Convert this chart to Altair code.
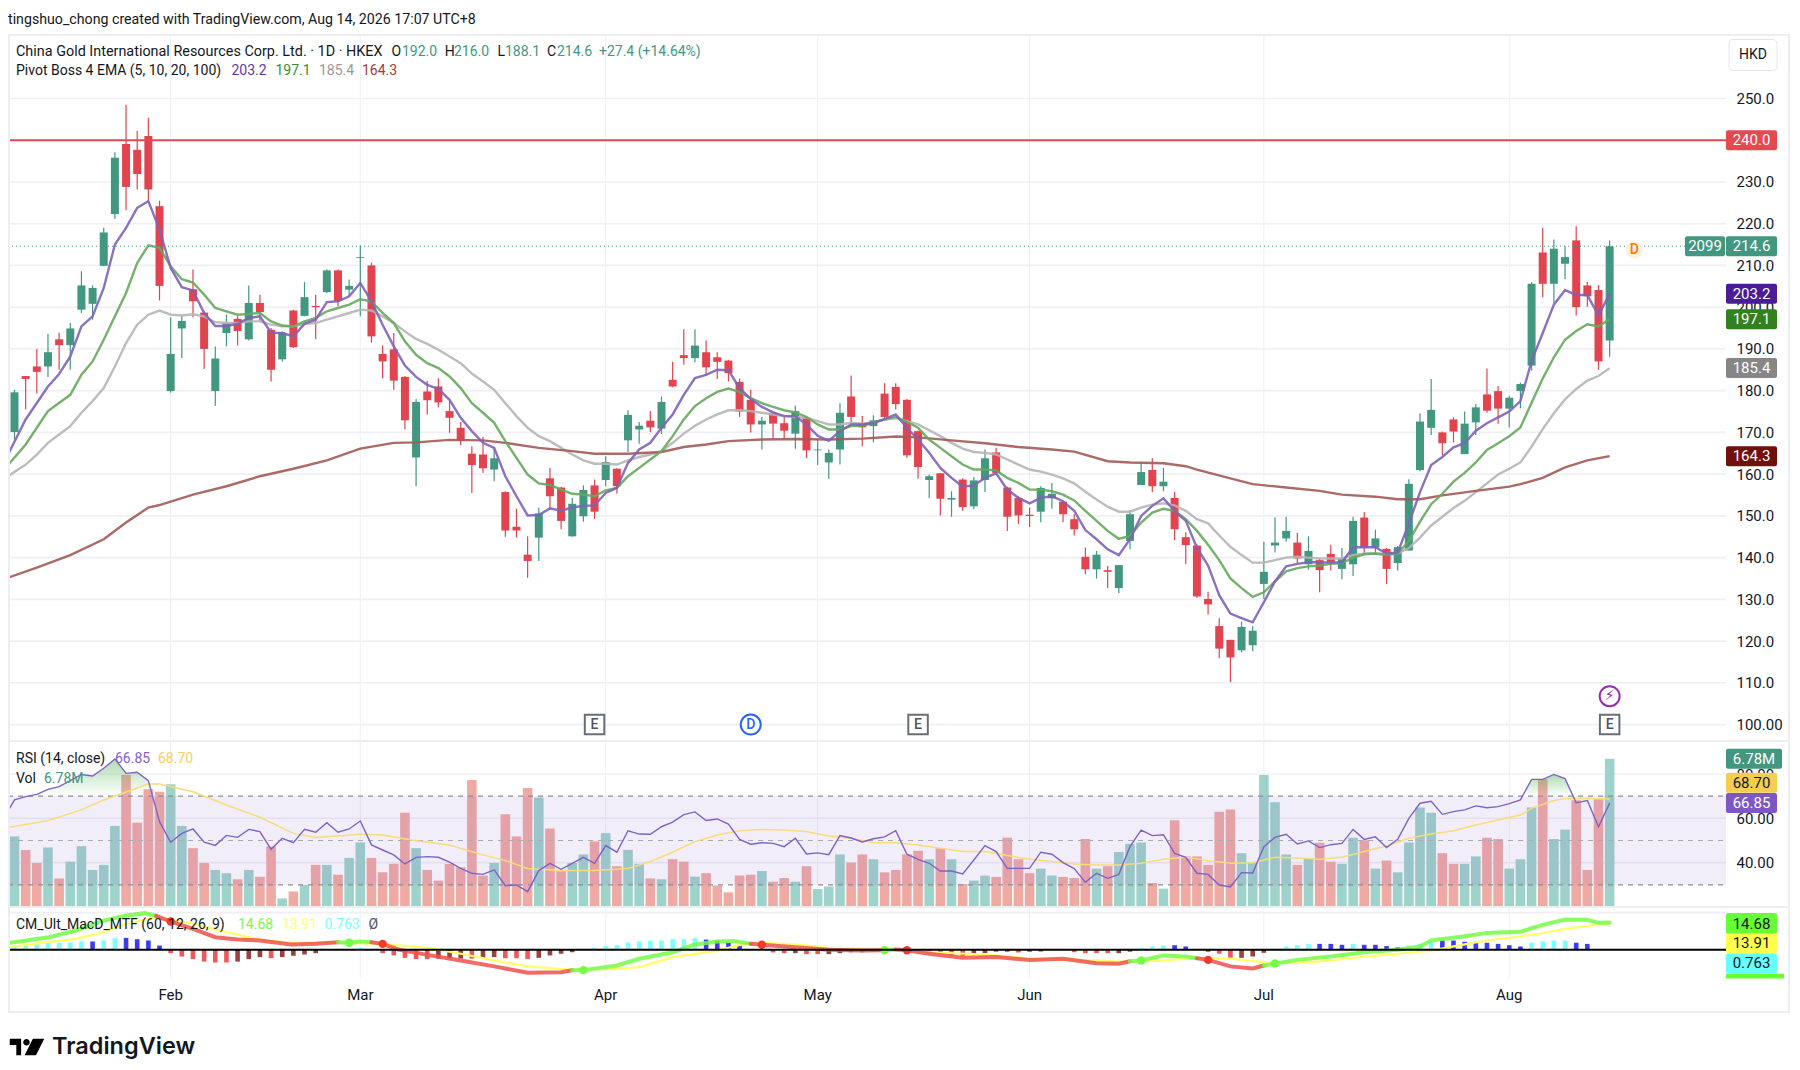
import altair as alt
import pandas as pd

dirs = list("GRRGRGGGGG" "RRRRGGRRGG" "RGRRGRGRGR" "GGRRRRGRRR" "RRRGRRRGRR" "GGRGRGGRGR"
            "RGRRRRRGRR" "GRGGGRRGRR" "RRGRGRGGRR" "RRGGRRRGRG" "GGRGRRRRRR" "GGGGGRGRRG"
            "GRGRGGGGRR" "GGRRGGGRGG" "RRRG")
body_top = [179.6,183.5,185.8,189.2,192.3,194.9,205.2,204.6,217.9,235.8,
            239.1,237.7,241,224.2,188.8,196.7,204.3,198.7,187.7,196.2,
            197.2,201,201,194.6,193.9,199.2,202.4,200.3,208.8,208.8,
            205.1,212,210,188.8,189.9,183.3,177.3,179.8,181,175.1,
            171.1,164.9,164.7,163.8,155.7,147.4,140.7,150.6,159,156.8,
            152.9,156.2,157.3,162.9,161.3,174.2,171.6,172.8,177.3,182.6,
            188.5,190.8,189.2,188,187.2,182.1,177.8,172.8,174.7,172.2,
            175.1,173.5,165.9,165.1,174.7,178.6,172.2,172.9,179.3,180.9,
            177.8,170.3,159.5,160.2,154.3,158.7,158.5,163.8,165.2,156.8,
            154.3,150.3,156.7,155.3,153.4,149.2,140.2,140.7,137,138.2,
            150.4,160.5,161,158.2,154.3,144.9,142.9,130.1,123.6,120.3,
            123.4,122.5,136.6,143.6,146.4,143.6,141.6,139.4,140.9,139.8,
            148.8,149.6,144.6,142.1,142.5,157.7,172.6,175.4,170,173.1,
            172.1,176,179.1,179.9,178.3,181.6,205.6,213.1,214,212,
            216,205.2,204.1,214.6]
body_bot = [170.1,182.8,184.5,185.8,190.9,190.9,199.4,200.8,209.9,222.3,
            228.8,231.9,228.2,205.1,179.9,194.9,201.4,190,179.9,193.8,
            194.3,192.3,198.8,185,187.5,190.4,197.9,200,203.6,201.5,
            204.2,211.8,193,187,182.4,172.9,164,177.7,177.2,173.5,
            168,162.2,161.4,161.1,146.5,146.5,139.2,144.8,154.7,148.8,
            145.1,149.9,151,158.6,157.1,168.1,170.7,171.2,170.9,181,
            187.8,187.8,185.6,186.9,184.2,175,171.9,171.9,172.1,170.4,
            169.7,165.7,165.7,162.8,165.9,173.7,171.2,171.5,173.7,176.8,
            164.5,161.7,158.6,154.1,153.9,152.1,152.3,158.6,160.3,149.8,
            150.1,150,151,154.2,150.4,146.8,137.2,137.2,136.6,132.7,
            144,157.4,157.1,157.1,146.8,143,130.7,128.8,118.2,116.1,
            117.8,119,133.7,142.9,144.6,139.8,138.4,137,138.9,137.3,
            138.4,142.3,142.4,137.3,138.7,141.7,161,171.1,167.4,170.2,
            164.8,172.4,175.2,175.7,175.7,179.9,186,205.6,205.6,210.4,
            200,202.6,187,192]
highs = [180.2,183.5,190,193.6,193.9,196.2,208.6,205.2,219,237.1,
         248.5,242.2,245.4,225.5,197.6,197.8,209,199,190.6,198.2,
         197.8,205.2,203,195,194.2,199.4,206,203,209,209,
         206.6,214.8,210.7,190.8,193.8,183.5,178,182.4,183,177.5,
         172.5,166.7,168.9,166.3,155.9,151.7,145.1,152,161.5,157,
         154.3,157.3,158.7,164.3,161.4,175.3,172.5,175.1,178.6,186.9,
         194.7,194.7,192,189.2,187.4,182.9,180.2,173.7,174.8,174,
         176.4,173.7,168.3,165.9,177,183.6,173.9,174.1,181.8,181.8,
         178,170.4,159.9,160.3,155.9,159,159.3,165.9,166.3,157,
         154.7,152,157.1,157.9,153.7,150.4,142.4,141.6,138,138.2,
         151.4,162.7,163.8,161.5,155.7,146.1,143.2,131.8,125.5,120.3,
         124.7,123.6,143.8,149.6,149.8,145.9,145.1,139.8,143.1,142.3,
         149.8,150.9,146.7,142.3,142.8,158.8,174.6,182.8,170.2,173.6,
         175,176.8,185.3,181.1,178.8,181.9,206,219,216.2,214.6,
         219.4,206,205.3,216]
lows = [168.3,175.5,179.3,183.3,185,185,198.6,197,209.8,221.1,
        223.2,228.2,225.4,201.6,179.5,187.8,197.6,185.2,176.3,190.6,
        190.8,192,196.6,182.2,187,190.2,197.8,192.3,203.4,200.2,
        202.6,197.8,191.5,183,180.2,170.7,157.1,174.3,176,169.9,
        166.9,155.5,160.3,158.3,145,144.8,135.2,139.2,151.5,146.8,
        145,148.6,149.3,157.1,155.3,165.3,167.3,170.1,169.6,180.8,
        186.2,186.8,183.6,182.8,182.2,173.7,170,165.9,168.4,168.4,
        166.1,163.9,162.2,158.9,162.3,172.4,166.7,167.6,173.5,175.5,
        163.9,158.9,154.3,150.1,149.8,151.2,151.6,155.7,159.9,146.4,
        148.1,147.3,148.5,151.7,148.5,145.3,136,135,132.7,131.5,
        142,157.4,155.7,155.9,144.2,138.4,130.4,126.4,115.9,110.2,
        117.3,117.6,130.1,141.2,143.8,138.7,137.1,131.7,136.9,134.8,
        135.6,140.9,140.9,133.7,136.9,141.7,160.7,169.4,164.5,167.6,
        164.8,169.4,174.7,172.1,171.2,175.8,184.8,202.4,201,206.7,
        198,200.1,185,188.1]

ema5_x = [-0.58,1,3] + list(range(4,144))
ema5_y = [164.7,173.1,181,
          184,188.2,195.4,197.8,204.6,215,219,223.8,225.4,218.6,209.4,204.8,204,198.6,195.5,195.5,196,197.4,197.8,193.9,
          193.8,193,196,197,201.2,201.4,202.6,205.8,201.4,195.8,190.6,186,183.3,181.4,180.4,177.8,173.5,170.3,167.5,166.3,
          159.5,154.7,150.1,150.2,151.8,151.2,152,152.4,152.5,
          155.5,156.7,162.7,165.9,167.5,171.1,174.3,179,183,183.8,185,184.9,180.6,178,176.1,174.8,173.9,173.9,171.9,169.2,168,
          170.3,171.9,171.9,172.3,173.2,174.3,171.1,168.3,165.1,161.5,159.1,157,157.3,159.1,160.2,156.3,154.3,153,154.3,154.7,
          153.5,151.2,146.6,144.4,142,140.6,144.4,150,152.4,154.2,151.2,148.8,142.4,
          138.1,131,126.6,125.5,124.5,129.3,134.3,137.9,138.5,138.9,138.9,138.8,138.9,142.5,142.5,142.5,141,141.2,148.2,155.7,
          162.2,164.1,166.4,167.4,170.4,172.2,173.6,175,177.5,187.1,193.8,200.6,204.1,202.9,202.9,198,203.2]
ema10_x = [-0.58,1,3,5] + list(range(6,144))
ema10_y = [162.2,167.1,175.1,179,
           183.8,187,192.2,197.8,203.4,210.6,214.8,214.2,209.8,206.7,205.9,203,199.8,199,198.2,198.4,198.6,196.6,195.6,195.4,
           196.6,197.4,199,199.8,200.6,201.9,201.4,198.6,196.2,191.8,188.6,186.6,185.4,183.4,180.6,177,174.7,172.3,167.9,163.9,
           159.9,157.8,157.4,156.3,155.3,155.1,154.7,
           156.1,156.7,159.5,161.5,163.5,165.5,169.1,173.1,176.3,178.2,179.7,180.5,179.7,178.2,177,176.1,175.3,174.8,173.7,171.9,
           170.7,170.7,171.5,171.6,172.3,173.1,173.7,172.5,171.1,168.3,166.3,164.3,162.3,161.1,161.1,160.9,159.1,157.9,156.3,156.3,
           155.9,155.1,153.7,151.2,148.8,146.4,144.5,145.2,148.4,150.8,151.7,151.2,149.2,146.4,
           143.1,139.4,135,132.7,130.6,131.7,134.3,136.7,137.5,137.9,138.1,138.5,138.7,140,140.8,141,140.6,141,144,148.6,152.8,
           155.3,158.2,160.3,162.8,165.8,167.4,169.1,171.2,177.1,182.9,188,192.2,194.3,195.9,195.4,197.1]
ema20_x = [-0.58] + list(range(1,144))
ema20_y = [159.5,
           162.3,164.7,167.5,169.5,171.5,174.7,177.5,180.6,185.8,191.4,195.8,198.2,199.2,198.2,198,198.3,197.8,196.4,196.2,196.2,
           196.6,196.6,195.8,195.4,195.4,196,196.2,197,197.8,198.6,199.4,199.2,197.8,196.2,194.2,192.4,191.2,189.8,188.2,186.6,
           184.1,182.2,180.2,177,173.9,171.1,169.1,167.9,166.3,164.7,163.3,162.5,
           162.5,162.3,163.3,164.1,164.7,165.5,167.5,169.7,171.6,173.1,174.3,175.3,175.3,175.1,174.7,174.3,173.9,173.7,173.5,172.7,
           171.9,171.9,172.3,172.1,172.4,173.1,173.4,172.7,171.9,170.5,169.1,167.5,166.1,165.3,165.1,164.7,163.5,162.3,161.1,160.6,
           159.9,159,157.8,155.8,153.9,152.2,151,151,152,152.7,153,152.5,151.2,149.2,
           148.2,145.3,142.6,140.6,138.8,138.8,139.4,140,140.2,140,139.8,139.8,139.8,140.6,141,141,140.9,141,142.3,144.8,147.7,149.8,
           151.9,153.6,155.7,157.8,159.9,161.3,162.8,166.6,170.8,174.6,177.9,180.4,182.4,183.5,185.4]
ema100_x = [-0.58,2,5,8,10,12,13,16,19,22,25,28,31,34,36,39,42,44,47,50,52,53,55,58,60,62,64,67,70,73,76,79,81,84,87,90,93,95,
            98,100,103,105,106,109,111,114,117,119,122,124,126,128,131,134,135,137,139,141,143]
ema100_y = [135.2,137.6,140.6,144.4,148.4,152,152.6,155.1,157.1,159.5,161.3,163.3,166.1,167.5,167.6,168.2,168.1,167.5,166.3,165.5,
            164.9,164.9,164.9,165.3,166.5,167.1,167.9,168.3,168.4,168.3,168.5,169,168.8,168.1,167.4,166.5,165.9,165.4,163.1,162.8,
            162.6,161.9,161.1,159,157.6,156.8,156,155.1,154.6,154,154,154.9,156,157,157.6,159.1,161.6,163.3,164.3]

volume = [3.22,2.60,2.00,2.71,1.29,2.06,2.77,1.68,1.91,3.70,6.04,3.85,5.38,5.27,5.61,3.70,2.68,2.00,1.68,1.53,
          1.25,1.68,1.37,2.76,0.37,0.69,0.99,1.91,1.91,1.46,2.23,2.94,2.23,1.57,1.96,4.30,2.68,1.68,1.19,1.96,
          1.80,5.81,1.42,2.00,4.24,3.22,5.44,5.01,3.58,1.62,2.00,2.39,2.99,3.37,1.85,2.60,1.96,1.29,1.25,2.17,
          2.06,1.37,1.53,0.97,0.65,1.42,1.46,1.63,1.14,1.31,1.14,1.85,0.80,0.92,2.39,2.02,2.39,2.17,1.57,1.68,
          2.39,2.56,2.17,2.68,2.17,1.03,1.19,1.42,1.36,3.16,2.17,1.53,1.74,1.42,1.36,1.31,3.10,1.74,1.85,2.50,
          2.88,2.94,1.08,0.82,3.96,2.30,2.30,1.91,4.35,4.45,2.45,2.00,6.04,4.79,2.39,1.91,2.22,2.93,2.06,1.96,
          3.16,3.04,1.74,2.11,1.57,2.94,4.55,4.30,2.45,1.96,1.96,2.30,3.16,3.10,1.74,2.17,4.55,5.84,3.10,3.53,
          4.88,1.68,4.92,6.78]

rsi_x = [-0.58] + list(range(0,144))
rsi_y = [63.3,
         68.3,69.8,70.8,73.1,74.3,77,79.8,79.1,82.6,86.8,80.3,80.8,77,58.5,49.2,53.2,55.2,49.2,47.8,52.3,51.4,55,54,46,51,49,55,53.7,58,
         53.7,55.2,58.8,48,45.7,43.5,39.4,42.4,42.7,42.4,40.2,37.4,35.2,34.7,36.7,29.6,29.9,26.9,36.4,39.7,37,39.7,42.4,39.7,
         47.7,44.7,54.4,52.9,52.8,56.2,58.3,61.7,62.9,59,59.7,57.4,50.5,48.3,49,48.7,47.2,51,43.9,44.4,43.6,52.2,51.1,49.3,50.8,51.6,54.4,
         43.8,41.5,39.7,36.2,36.2,34.9,41.2,47.7,45,37.4,37.4,37.4,44.7,43.8,40,37.3,31.1,35.2,32.9,34.7,47.2,54.7,52.2,52.6,44.2,42.4,35.2,
         34.7,29.9,29,35.5,35.3,47.2,51.4,52.8,48.4,49.8,46.8,48.1,48.7,55,50.5,51.7,46.8,50.5,60,66.8,67.7,61.8,63,63.8,65.6,64.8,65.3,
         66.6,68.3,77.6,77.6,79.8,77.9,67,68,56.2,66.85]
rsi_ma_x = [-0.58,3,6,8,10.5,12,13,16,19,22,25,27,29,31,33,36,39,42,44,46,49,52,55,57,59,61,63,65,67,69,71,73,75,77,79,81,83,85,87,
            89,91,93,95,97,99,101,103,105,106,107,109,111,113,115,117,119,121,123,125,127,129,131,133,135,136,138,139,141,143]
rsi_ma_y = [55.9,59,63.8,68.3,72.8,75.5,75.5,72,66,60.5,53.2,51.4,52,52.8,52.5,49.9,48,43.5,40.9,37.4,36.4,36.4,37.4,40.5,44.7,49.5,
            52.5,54.4,55,54.7,54.1,52,51,49,49,48,46.5,45,45,43.2,41.5,40.5,39.4,38.9,38.9,39.7,41.5,42.4,41.7,40.8,39.7,40,42.4,42.1,
            41.5,42.4,45,47.5,51,52.9,54.4,57,59.2,61.5,64.5,68,69,68.9,68.7]
ob_left_x = [1.1,2,3,4,5,6,7,8,9,10,11,12,12.4]
ob_left_y = [70,70.8,73.1,74.3,77,79.8,79.1,82.6,86.8,80.3,80.8,77,70]
ob_right_x = [135.2,136,137,138,139,139.7]
ob_right_y = [70,77.6,77.6,79.8,77.9,70]

hist = [1.3,2.3,3,3.8,3.9,3.9,4.5,4.5,5,6.3,6.4,5.7,5,2.3,
        -1.8,-3.6,-5,-6.3,-6.8,-6.8,-6.3,-5,-3.9,-4.5,-3.9,-3.2,-2.5,-1.8,0,0,0,1,0,
        -1.8,-3,-4.3,-5,-5,-4.7,-4.7,-4.7,-4.7,-4.3,-3.9,-4.5,-4.5,-5,-4.3,-3,-2.1,-1.3,0,1,
        2,2.5,3.9,4.5,5,5,5.7,5.7,6.3,5.5,5,3.9,2.5,0,0,
        -1.4,-1.8,-1.8,-2.3,-2.3,-2.3,-1.8,-1.3,-1.3,-0.9,0,0,0,0,
        -1.8,-2.1,-3,-3.2,-2.3,-1.8,-1,-1,-1.4,-1,-0.9,0,0,
        -1.3,-1.8,-1.8,-1.8,-1.8,-1,1,1.8,2.3,2.5,1.8,0,
        -1,-2.1,-4.3,-4.3,-3.6,-1.6,0,
        1.8,2.5,3.2,3.2,3.2,2.7,3.2,2.7,2.7,2,1.3,2.3,3.2,4.5,5,5,4.3,4.3,3.8,3.2,2.5,1.8,3.8,4.5,5,5,3.8,3.2,0,0]
hist_kind = list("aaaaaaabaabbbb" "rrrrrrmmmrmmmm---a-" "rrrrrmmmrmmrrrmmmm-a"
                 "aaaaaaaaabbbb--" "rrmrrmmmmm----" "rrrrmmmmrmm--" "rrrrmmaaabb-"
                 "mrrmmm-" "aaabbbabbbbaaabbbbbbbbaaaabb--")

macd_segments = [
    ("g", [-0.58,3.1,5.5,8,10,11.7,12.7], [3.6,6.8,10.4,15.7,18.4,19.7,18.2]),
    ("r", [12.7,14,16,18,20,22,24.8,27,29], [18.2,15.2,11.3,6.8,5.5,5,2.9,3.2,4.1]),
    ("g", [29,30,31,32], [4.1,3.8,4.5,4.1]),
    ("r", [32,33,34.4,37,40,43,46,49,50], [4.1,3.2,0.2,-2.7,-5.7,-8.9,-12.3,-12,-11]),
    ("g", [50,51,54,56,59,61,63,64.5,66], [-11,-10.9,-8.4,-4.8,-1.3,2.9,4.5,4.8,3.2]),
    ("r", [66,67,70,73,76,78], [3.2,2.7,1.4,0,-0.4,-0.2]),
    ("g", [78,79], [-0.2,0.2]),
    ("r", [79,80,82,85,88,91,94,97,99,100], [0.2,-0.2,-2.1,-4.3,-3.9,-5.4,-4.8,-7.2,-7.5,-6.1]),
    ("g", [100,101,103,105,106], [-6.1,-5.7,-3,-3.6,-4.5]),
    ("r", [106,107,109,111,112], [-4.5,-5.4,-8.9,-10,-8.4]),
    ("g", [112,113,115,118,121,124,126,127,130,132,135,137,139,141,142,143],
     [-8.4,-7.3,-5.4,-3.6,-1.3,0,1.8,5,7.3,9.1,9.7,13.4,16.3,16.1,14.5,14.68]),
]
signal_x = [-0.58,3,5.5,8,10,12.7,16,19,22,25,29,33,37,40,43,46,50,54,56,59,63,66,70,73,78,82,87,91,97,100,103,106,109,112,115,118,
            121,124,127,130,132,135,137,139,142,143]
signal_y = [1.4,4.1,5.9,9.5,14,17.5,14,9.5,5.4,3.8,3.8,3.2,1.1,-2.1,-5.7,-8.9,-10.7,-10.2,-9.3,-3.9,-0.4,4.1,2.9,1.1,0,-1.3,-2.5,-4.8,
            -5.7,-6.6,-5.7,-4.3,-4.8,-6.6,-7.2,-5.7,-3.6,-2.1,-0.4,2.9,5,7.2,8.9,11.3,13.6,13.91]
cross_red_x = [14,33,67,80,107]
cross_red_y = [15.2,3.2,2.7,-0.2,-5.4]
cross_green_x = [30,51,78,101,113]
cross_green_y = [3.8,-10.9,-0.2,-5.7,-7.3]

month_idx = [14,31,53,72,91,112,134]
month_names = ["Feb","Mar","Apr","May","Jun","Jul","Aug"]
price_ticks = list(range(100,260,10))
rsi_ticks = [40,60,80]

FONT = "Roboto"
INK = "#131722"
GRID = "#eef0f5"
FRAME = "#eceef3"
UP = "#429781"
DOWN = "#e1434f"
WIDTH = 1718
X_MIN, X_MAX = -0.583, 153.43
xs = alt.Scale(domain=[X_MIN, X_MAX], nice=False, zero=False, padding=0)
ps = alt.Scale(domain=[96.07, 265.2], nice=False, zero=False)
rs = alt.Scale(domain=[20.2, 94.9], nice=False, zero=False)
vs = alt.Scale(domain=[0, 7.6], nice=False, zero=False)
ms = alt.Scale(domain=[-15.4, 23.0], nice=False, zero=False)
P_H, R_H, M_H = 706, 165.5, 71.5

one = pd.DataFrame({"a": [0]})
months = pd.DataFrame({"i": month_idx, "m": month_names})
XN = alt.X("i:Q", scale=xs, title=None, axis=None)


def month_grid(height):
    return alt.Chart(months).mark_rule(color=GRID, strokeWidth=1, clip=True).encode(
        x=XN, y=alt.value(0), y2=alt.value(height))


def y_grid(values, scale, w=1.6):
    d = pd.DataFrame({"i": [X_MIN] * len(values), "i2": [X_MAX] * len(values), "v": values})
    return alt.Chart(d).mark_rule(color=GRID, strokeWidth=w, clip=True).encode(
        x=XN, x2="i2:Q", y=alt.Y("v:Q", scale=scale, axis=None, title=None))


def txt(x, y, s, color=INK, size=14, weight=None, align="left", font=FONT):
    kw = dict(text=s, color=color, fontSize=size, font=font, align=align, baseline="middle")
    if weight:
        kw["fontWeight"] = weight
    return alt.Chart(one).mark_text(**kw).encode(x=alt.value(x), y=alt.value(y))


def hrule(x1, x2, y, color=FRAME, w=2):
    return alt.Chart(one).mark_rect(color=color).encode(
        x=alt.value(x1), x2=alt.value(x2), y=alt.value(y - w / 2), y2=alt.value(y + w / 2))


def vrule(x, y1, y2, color=FRAME, w=2):
    return alt.Chart(one).mark_rect(color=color).encode(
        x=alt.value(x), x2=alt.value(x + w), y=alt.value(y1), y2=alt.value(y2))


def tag(value, scale, fill, label, ink="#ffffff", left=1718, right=1769, h=20):
    d = pd.DataFrame({"v": [value]})
    y = alt.Y("v:Q", scale=scale, axis=None, title=None)
    r = alt.Chart(d).mark_rect(color=fill, height=h, width=right - left, cornerRadius=2).encode(
        x=alt.value((left + right) / 2), y=y)
    t = alt.Chart(d).mark_text(text=label, color=ink, font=FONT, fontSize=15, align="center", baseline="middle").encode(
        x=alt.value((left + right) / 2), y=y)
    return [r, t]


# ---- header
header = alt.layer(
    txt(0, 11.5, "tingshuo_chong created with TradingView.com, Aug 14, 2026 17:07 UTC+8", size=14.2),
).properties(width=WIDTH, height=27)

# ---- price pane
c = pd.DataFrame({"i": list(range(144)), "dir": dirs, "top": body_top, "bot": body_bot, "hi": highs, "lo": lows})
dir_col = alt.Color("dir:N", scale=alt.Scale(domain=["G", "R"], range=[UP, DOWN]), legend=None)
PY = alt.Y("hi:Q", scale=ps, title=None, axis=alt.Axis(
    values=price_ticks, orient="right", grid=False, domain=False, ticks=False,
    labelFont=FONT, labelFontSize=15, labelColor=INK, labelPadding=10, labelOverlap=False,
    labelExpr="datum.value == 100 ? '100.00' : datum.value == 240 ? '' : format(datum.value, '.1f')"))
wick = alt.Chart(c).mark_rule(strokeWidth=1.2).encode(x=XN, y=PY, y2="lo:Q", color=dir_col)
body = alt.Chart(c).mark_bar(size=8).encode(x=XN, y=alt.Y("top:Q", scale=ps, axis=None, title=None), y2="bot:Q", color=dir_col)


def line(xv, yv, color, scale, w=2.4, opacity=0.9):
    d = pd.DataFrame({"i": xv, "v": yv})
    return alt.Chart(d).mark_line(color=color, strokeWidth=w, opacity=opacity, interpolate="linear", clip=True).encode(
        x=XN, y=alt.Y("v:Q", scale=scale, axis=None, title=None))


def flat(value, scale, color, x1=X_MIN, x2=X_MAX, w=1, dash=None):
    d = pd.DataFrame({"i": [x1], "i2": [x2], "v": [value]})
    kw = dict(color=color, strokeWidth=w, clip=True)
    if dash:
        kw["strokeDash"] = dash
    return alt.Chart(d).mark_rule(**kw).encode(x=XN, x2="i2:Q", y=alt.Y("v:Q", scale=scale, axis=None, title=None))


def glyph(i, v, mark_kw, text=None, text_color=INK, size=14, font=FONT):
    d = pd.DataFrame({"i": [i], "v": [v]})
    y = alt.Y("v:Q", scale=ps, axis=None, title=None)
    layers = [alt.Chart(d).mark_point(**mark_kw).encode(x=XN, y=y)]
    if text:
        layers.append(alt.Chart(d).mark_text(text=text, color=text_color, fontSize=size, font=font, fontWeight=500,
                                             align="center", baseline="middle").encode(x=XN, y=y))
    return layers


e_box = dict(shape="square", size=380, filled=True, fill="#ffffff", stroke="#6a6d78", strokeWidth=2, opacity=1)
d_circle = dict(shape="circle", size=400, filled=True, fill="#ffffff", stroke="#2962ff", strokeWidth=2, opacity=1)
bolt = dict(shape="circle", size=400, filled=True, fill="#ffffff", stroke="#9c27b0", strokeWidth=2, opacity=1)
pale = dict(shape="circle", size=280, filled=True, fill="#fff0dc", stroke="#fff0dc", strokeWidth=0, opacity=1)

price_layers = [month_grid(P_H), y_grid(price_ticks, ps), wick, body,
                line(ema20_x, ema20_y, "#b5b5b5", ps),
                line(ema100_x, ema100_y, "#a25a56", ps),
                line(ema10_x, ema10_y, "#66a95c", ps),
                line(ema5_x, ema5_y, "#7e62b8", ps),
                flat(240, ps, "#e5484f", w=2),
                flat(214.6, ps, "#429781", x2=149.9, dash=[1, 3])]
price_layers += glyph(52, 100, e_box, "E", "#50535e")
price_layers += glyph(66, 100, d_circle, "D", "#2962ff")
price_layers += glyph(81, 100, e_box, "E", "#50535e")
price_layers += glyph(143, 100, e_box, "E", "#50535e")
price_layers += glyph(143, 106.8, bolt, "⚡\ufe0e", "#9c27b0", font="DejaVu Sans")
price_layers += glyph(145.2, 213.7, pale, "D", "#f57c00")
price_layers += tag(240, ps, "#e5484f", "240.0")
price_layers += tag(214.6, ps, "#429781", "2099", left=1677, right=1717)
price_layers += tag(214.6, ps, "#429781", "214.6")
price_layers += tag(203.2, ps, "#4a1d96", "203.2")
price_layers += tag(197.1, ps, "#33801f", "197.1")
price_layers += tag(185.4, ps, "#868686", "185.4")
price_layers += tag(164.3, ps, "#6f100b", "164.3")
price_layers += [hrule(0, 1782, 0), vrule(0, 0, P_H), vrule(1780, 0, P_H)]
price_layers += [alt.Chart(one).mark_rect(fill="#ffffff", stroke="#e3e5ea", strokeWidth=1, cornerRadius=4, width=48, height=31).encode(
    x=alt.value(1745), y=alt.value(20)), txt(1745, 20, "HKD", align="center")]
price_layers += [
    txt(8, 16.7, "China Gold International Resources Corp. Ltd. · 1D · HKEX", size=14.4),
    txt(383.5, 16.7, "O"), txt(394, 16.7, "192.0", UP),
    txt(436.7, 16.7, "H"), txt(446, 16.7, "216.0", UP),
    txt(489.5, 16.7, "L"), txt(497, 16.7, "188.1", UP),
    txt(539, 16.7, "C"), txt(549, 16.7, "214.6", UP), txt(591, 16.7, "+27.4 (+14.64%)", UP),
    txt(8, 36, "Pivot Boss 4 EMA (5, 10, 20, 100)"),
    txt(223.5, 36, "203.2", "#5b3aa6"), txt(267.5, 36, "197.1", "#3d8c2f"),
    txt(311, 36, "185.4", "#999999"), txt(354, 36, "164.3", "#a03a36"),
]
price = alt.layer(*price_layers).resolve_scale(y="independent", color="independent").resolve_axis(y="independent").properties(width=WIDTH, height=P_H)

# ---- RSI / volume pane
v = pd.DataFrame({"i": list(range(144)), "v": volume, "dir": dirs})
RY = alt.Y("v:Q", scale=rs, title=None, axis=alt.Axis(
    values=rsi_ticks, orient="right", grid=False, domain=False, ticks=False,
    labelFont=FONT, labelFontSize=15, labelColor=INK, labelPadding=10, format=".2f"))
rsi_df = pd.DataFrame({"i": rsi_x, "v": rsi_y})
vol_bars = alt.Chart(v).mark_bar(size=9.6).encode(
    x=XN, y=alt.Y("v:Q", scale=vs, axis=None, title=None),
    color=alt.Color("dir:N", scale=alt.Scale(domain=["G", "R"], range=["#9dd3ca", "#f0aaa4"]), legend=None))
band_df = pd.DataFrame({"i": [X_MIN], "i2": [X_MAX], "v": [70], "v2": [30]})
band = alt.Chart(band_df).mark_rect(color="#7e57c2", opacity=0.1).encode(
    x=XN, x2="i2:Q", y=alt.Y("v:Q", scale=rs, axis=None, title=None), y2="v2:Q")
grad = alt.Gradient(gradient="linear", x1=0, x2=0, y1=0, y2=1, stops=[
    alt.GradientStop(color="rgba(76,175,80,0.45)", offset=0),
    alt.GradientStop(color="rgba(76,175,80,0)", offset=1)])


def ob_area(xv, yv):
    d = pd.DataFrame({"i": xv, "v": yv, "b": [70] * len(xv)})
    return alt.Chart(d).mark_area(color=grad).encode(
        x=XN, y=alt.Y("v:Q", scale=rs, axis=None, title=None), y2="b:Q")


rsi_axis = alt.Chart(rsi_df).mark_line(color="#7e62c8", strokeWidth=1.4, opacity=0, clip=True).encode(x=XN, y=RY)
rsi_layers = [rsi_axis, month_grid(R_H), y_grid(rsi_ticks, rs), vol_bars, band, ob_area(ob_left_x, ob_left_y), ob_area(ob_right_x, ob_right_y),
              flat(70, rs, "#8a8d96", dash=[5, 5], w=1.2),
              flat(50, rs, "#a9abb2", dash=[5, 5], w=1.2),
              flat(30, rs, "#8a8d96", dash=[5, 5], w=1.2),
              line(rsi_ma_x, rsi_ma_y, "#f7dc7a", rs, w=1.5, opacity=1),
              line(rsi_x, rsi_y, "#7e62c8", rs, w=1.4, opacity=1)]
rsi_layers += tag(76.1, rs, "#f5cd50", "68.70", ink=INK)
rsi_layers += tag(66.9, rs, "#7e57c2", "66.85")
rsi_layers += tag(6.78, vs, "#429781", "6.78M", right=1774)
rsi_layers += [hrule(0, 1782, 0), vrule(0, 0, R_H), vrule(1780, 0, R_H)]
rsi_layers += [txt(8, 18, "RSI (14, close)"), txt(107, 18, "66.85", "#7e62c8"), txt(150, 18, "68.70", "#f7cf5e"),
               txt(8, 38, "Vol"), txt(36, 38, "6.78M", "#429781")]
rsi = alt.layer(*rsi_layers).resolve_scale(y="independent", color="independent").resolve_axis(y="independent").properties(width=WIDTH, height=R_H)

# ---- MACD pane
h = pd.DataFrame({"i": list(range(144)), "v": hist, "k": hist_kind})
h = h[h["v"] != 0]
hist_bars = alt.Chart(h).mark_bar(size=4.6).encode(
    x=XN, y=alt.Y("v:Q", scale=ms, axis=None, title=None),
    color=alt.Color("k:N", scale=alt.Scale(domain=["a", "b", "r", "m"],
                                           range=["#7dffff", "#3b3bf5", "#f0575a", "#96423f"]), legend=None))
seg_rows = []
for n, (kind, xv, yv) in enumerate(macd_segments):
    for a, b in zip(xv, yv):
        seg_rows.append({"i": a, "v": b, "seg": n, "k": kind})
seg_df = pd.DataFrame(seg_rows)
seg_lines = alt.Chart(seg_df).mark_line(strokeWidth=4, opacity=0.85, strokeCap="round", clip=True).encode(
    x=XN, y=alt.Y("v:Q", scale=ms, axis=None, title=None), detail="seg:N",
    color=alt.Color("k:N", scale=alt.Scale(domain=["g", "r"], range=["#74fb46", "#f0504a"]), legend=None))
red_pts = alt.Chart(pd.DataFrame({"i": cross_red_x, "v": cross_red_y})).mark_circle(size=70, color="#ee3b2d", opacity=1).encode(
    x=XN, y=alt.Y("v:Q", scale=ms, axis=None, title=None))
green_pts = alt.Chart(pd.DataFrame({"i": cross_green_x, "v": cross_green_y})).mark_circle(size=70, color="#74fb46", opacity=1).encode(
    x=XN, y=alt.Y("v:Q", scale=ms, axis=None, title=None))
stub = pd.DataFrame({"v": [-12.9], "v2": [-15.4]})
month_labels = alt.Chart(months).mark_text(color=INK, font=FONT, fontSize=15, align="center", baseline="middle").encode(
    x=XN, y=alt.value(87.5), text="m:N")
macd_layers = [month_grid(M_H), y_grid([20], ms), hist_bars,
               line(signal_x, signal_y, "#ffff66", ms, w=2.2, opacity=1),
               seg_lines,
               red_pts, green_pts,
               flat(0, ms, "#000000", w=2), month_labels]
macd_layers += [alt.Chart(stub).mark_rect(color="#66ff33").encode(
    x=alt.value(1718), x2=alt.value(1776), y=alt.Y("v:Q", scale=ms, axis=None, title=None), y2="v2:Q")]
macd_layers += tag(14.1, ms, "#66ff33", "14.68", ink=INK, h=21)
macd_layers += tag(3.4, ms, "#ffff4d", "13.91", ink=INK, h=20)
macd_layers += tag(-7.3, ms, "#66ffff", "0.763", ink=INK, h=20)
macd_layers += [hrule(0, 1782, 0), hrule(0, 1782, 105), vrule(0, 0, 105), vrule(1780, 0, 105)]
macd_layers += [txt(8, 17.5, "CM_Ult_MacD_MTF (60, 12, 26, 9)"), txt(230, 17.5, "14.68", "#74fb46"),
                txt(274, 17.5, "13.91", "#ffff66"), txt(316.5, 17.5, "0.763", "#7dffff"), txt(360.5, 17.5, "Ø", "#50535e")]
logo_path = ("M-1,-0.48 H-0.34 V0.48 H-0.62 V-0.12 H-1 Z "
             "M-0.22,-0.28 A0.19,0.19 0 1 1 0.16,-0.28 A0.19,0.19 0 1 1 -0.22,-0.28 Z "
             "M0.34,-0.48 H1 L0.52,0.48 H-0.14 Z")
macd_layers += [alt.Chart(one).mark_point(shape=logo_path, size=1190, filled=True, color="#000000", opacity=1, strokeWidth=0).encode(
    x=alt.value(19), y=alt.value(140)),
    txt(44, 140, "TradingView", "#131722", size=23.5, weight=600, font="Inter")]
macd = alt.layer(*macd_layers).resolve_scale(y="independent", color="independent").resolve_axis(y="independent").properties(width=WIDTH, height=M_H)

chart = alt.vconcat(header, price, rsi, macd, spacing=0, bounds="flush", padding=0, background="#ffffff").configure_view(strokeWidth=0)
chart.save("out.html", embed_options={"renderer": "svg", "actions": False})
